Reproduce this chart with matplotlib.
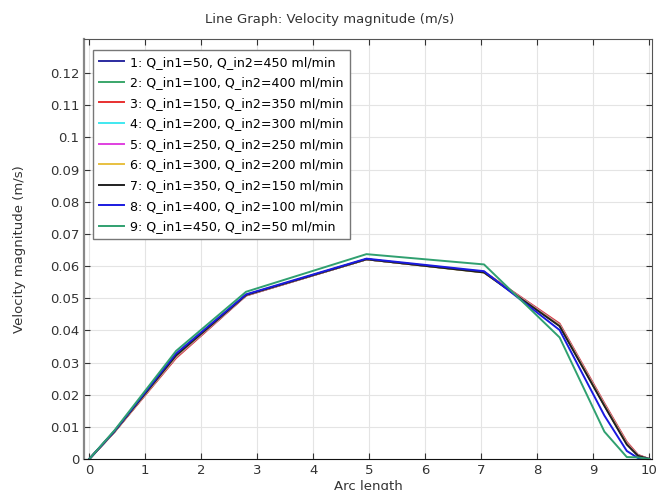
import matplotlib
matplotlib.use("Agg")
import matplotlib.pyplot as plt

# ------------------------------------------------------------------
# data (arc length vs velocity magnitude)
# ------------------------------------------------------------------
arc = [0, 0.45, 1.55, 2.8, 4.95, 7.05, 8.4, 9.2, 9.6, 9.8, 10.0]

labels = [
    "1: Q_in1=50, Q_in2=450 ml/min",
    "2: Q_in1=100, Q_in2=400 ml/min",
    "3: Q_in1=150, Q_in2=350 ml/min",
    "4: Q_in1=200, Q_in2=300 ml/min",
    "5: Q_in1=250, Q_in2=250 ml/min",
    "6: Q_in1=300, Q_in2=200 ml/min",
    "7: Q_in1=350, Q_in2=150 ml/min",
    "8: Q_in1=400, Q_in2=100 ml/min",
    "9: Q_in1=450, Q_in2=50 ml/min",
]

v1 = [0, 0.0085, 0.0318, 0.0509, 0.0621, 0.0581, 0.0416, 0.0168, 0.0048, 0.0011, 0]
v2 = [0, 0.0085, 0.0318, 0.0509, 0.0621, 0.0581, 0.0416, 0.0168, 0.0048, 0.0011, 0]
v3 = [0, 0.0084, 0.0314, 0.0508, 0.0621, 0.0582, 0.0421, 0.0173, 0.0053, 0.0013, 0]
v4 = [0, 0.0085, 0.0318, 0.0509, 0.0621, 0.0581, 0.0417, 0.0169, 0.0049, 0.0011, 0]
v5 = [0, 0.0085, 0.0319, 0.0509, 0.0621, 0.0581, 0.0416, 0.0168, 0.0048, 0.0011, 0]
v6 = [0, 0.0085, 0.0320, 0.0510, 0.0621, 0.0580, 0.0415, 0.0167, 0.0047, 0.0010, 0]
v7 = [0, 0.0086, 0.0322, 0.0510, 0.0621, 0.0580, 0.0413, 0.0165, 0.0045, 0.0010, 0]
v8 = [0, 0.0087, 0.0328, 0.0512, 0.0623, 0.0584, 0.0401, 0.0135, 0.0025, 0.0003, 0]
v9 = [0, 0.0089, 0.0336, 0.0520, 0.0637, 0.0605, 0.0378, 0.0085, 0.0006, 0.0005, 0]

series = [v1, v2, v3, v4, v5, v6, v7, v8, v9]
colors = ["#2b2ba0", "#3aa66a", "#e83030", "#40e8f0", "#e040e0",
          "#e8c040", "#202020", "#1a1ae0", "#30a070"]

xticks = list(range(0, 11))
yticks = [0, 0.01, 0.02, 0.03, 0.04, 0.05, 0.06, 0.07, 0.08, 0.09, 0.1, 0.11, 0.12]
ytick_labels = ["0", "0.01", "0.02", "0.03", "0.04", "0.05", "0.06", "0.07",
                "0.08", "0.09", "0.1", "0.11", "0.12"]

# ------------------------------------------------------------------
# figure
# ------------------------------------------------------------------
fig = plt.figure(figsize=(6.56, 4.90), dpi=100)
ax = fig.add_axes([84 / 656, 1 - 459 / 490, (652 - 84) / 656, (459 - 39) / 490])

for y, c, lab in zip(series, colors, labels):
    ax.plot(arc, y, color=c, lw=1.4, label=lab)

ax.set_xlim(-0.094, 10.05)
ax.set_ylim(0, 0.1306)
ax.set_xticks(xticks)
ax.set_yticks(yticks)
ax.set_yticklabels(ytick_labels)
ax.grid(True, color="#e4e4e4", lw=0.8)
ax.set_axisbelow(True)
ax.tick_params(direction="in", top=True, right=True, labelsize=9.5,
               colors="#333333", length=4)
for s in ax.spines.values():
    s.set_color("#555555")
ax.spines["left"].set_linewidth(1.6)
ax.spines["left"].set_color("#888888")
ax.spines["bottom"].set_color("#111111")

ax.set_xlabel("Arc length", fontsize=9.5, color="#333333", labelpad=2)
ax.set_ylabel("Velocity magnitude (m/s)", fontsize=9.5, color="#333333", labelpad=17)
fig.text(0.503, 1 - 19 / 490, "Line Graph: Velocity magnitude (m/s)",
         ha="center", va="center", fontsize=9.5, color="#333333")

leg = ax.legend(loc="upper left", bbox_to_anchor=(0.016, 0.974), borderaxespad=0,
                fontsize=9.1, handlelength=2.0, handletextpad=0.5,
                labelspacing=0.6, fancybox=False, framealpha=1,
                edgecolor="#777777", borderpad=0.45)
leg.get_frame().set_linewidth(1.0)

fig.savefig("out.png", dpi=100)
